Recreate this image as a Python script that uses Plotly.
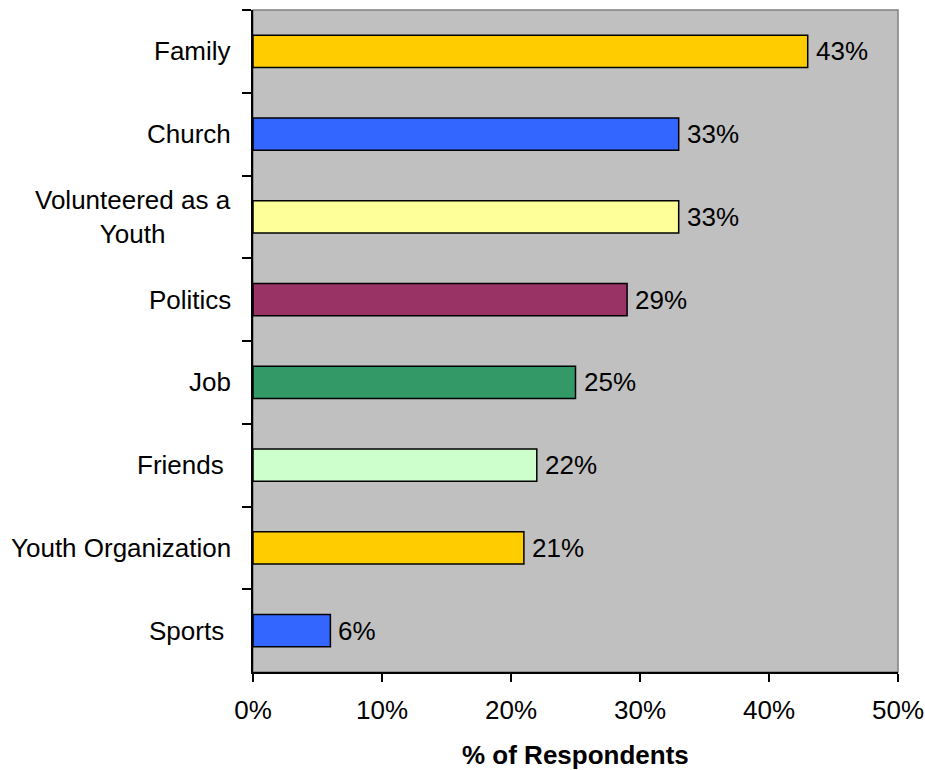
import plotly.graph_objects as go

# Survey: what got respondents involved
categories = ["Family", "Church", "Volunteered as a<br>Youth", "Politics", "Job",
              "Friends\u00a0", "Youth Organization", "Sports\u00a0"]
values = [43, 33, 33, 29, 25, 22, 21, 6]
colors = ["#FFCC00", "#3366FF", "#FFFF99", "#993366", "#339966",
          "#CCFFCC", "#FFCC00", "#3366FF"]
x_ticks = [0, 10, 20, 30, 40, 50]
x_tick_labels = [f"{t}%" for t in x_ticks]
x_title = "% of Respondents"

FONT = "Liberation Sans, Arial, sans-serif"
FS = 26

fig = go.Figure()
fig.add_trace(go.Bar(
    y=categories,
    x=values,
    orientation="h",
    width=0.39,
    marker=dict(color=colors, line=dict(color="#000000", width=1.5)),
    hoverinfo="skip",
))

# value labels to the right of each bar
for c, v in zip(categories, values):
    fig.add_annotation(
        xref="x", yref="y", x=v, y=c, text=f"{v}%",
        xanchor="left", yanchor="middle", xshift=6,
        showarrow=False,
        font=dict(family=FONT, size=FS, color="#000000"),
    )

# category labels, centred line by line
for c in categories:
    fig.add_annotation(
        xref="paper", yref="y", x=0, y=c, text=c,
        xanchor="right", yanchor="middle", align="center",
        xshift=-20, showarrow=False,
        font=dict(family=FONT, size=FS, color="#000000"),
    )

# axis title
fig.add_annotation(
    xref="paper", yref="paper", x=0.5, y=0, text=f"<b>{x_title}</b>",
    xanchor="center", yanchor="middle", yshift=-83, showarrow=False,
    font=dict(family=FONT, size=FS, color="#000000"),
)

# plot-area frame (grey on top and right)
fig.add_shape(type="rect", xref="paper", yref="paper", x0=0, x1=1, y0=0, y1=1,
              line=dict(color="#808080", width=1.5), fillcolor="rgba(0,0,0,0)",
              layer="below")

fig.update_layout(
    width=925, height=770,
    margin=dict(l=253, r=27, t=10, b=98),
    paper_bgcolor="#FFFFFF",
    plot_bgcolor="#C0C0C0",
    showlegend=False,
    font=dict(family=FONT, size=FS, color="#000000"),
    xaxis=dict(
        range=[0, 50], tickmode="array", tickvals=x_ticks, ticktext=x_tick_labels,
        showgrid=False, zeroline=False, automargin=False,
        showline=True, linecolor="#000000", linewidth=1.5,
        ticks="outside", ticklen=8, tickcolor="#000000", tickwidth=1.5,
        ticklabelstandoff=6,
        tickfont=dict(family=FONT, size=FS, color="#000000"),
    ),
    yaxis=dict(
        autorange="reversed", type="category", automargin=False,
        showticklabels=False, showgrid=False, zeroline=False,
        showline=True, linecolor="#000000", linewidth=1.5,
        ticks="outside", ticklen=9, tickcolor="#000000", tickwidth=1.5,
        tickson="boundaries",
    ),
)

fig.write_html("out.html")
